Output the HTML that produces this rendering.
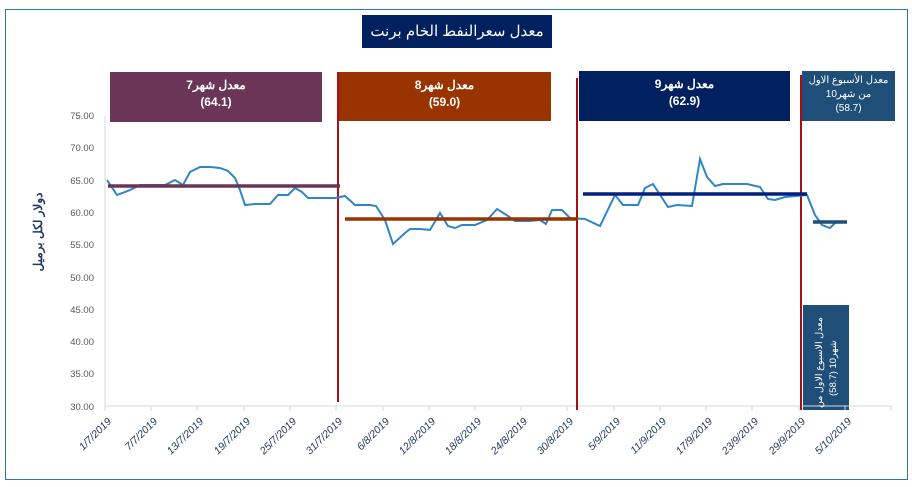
<!DOCTYPE html>
<html><head><meta charset="utf-8"><style>
body{margin:0;background:#fff;width:912px;height:487px;overflow:hidden;font-family:"Liberation Sans","Noto Sans CJK SC",sans-serif}
.b{position:absolute;color:#fff;text-align:center;font-weight:bold;font-size:12px;line-height:17px}
</style></head><body>
<div style="position:absolute;left:5px;top:9px;width:901px;height:469px;border:1.5px solid #2e75b6"></div>
<div class="b" style="left:362px;top:15px;width:190px;height:33px;background:#002060;font-size:15px;line-height:33px;font-weight:normal">معدل سعرالنفط الخام برنت</div>
<div class="b" style="left:110px;top:72px;width:212px;height:50px;background:#6b3557;padding-top:5px;box-sizing:border-box">معدل شهر7<br>(64.1)</div>
<div class="b" style="left:338px;top:72px;width:213px;height:49px;background:#993300;padding-top:5px;box-sizing:border-box">معدل شهر8<br>(59.0)</div>
<div class="b" style="left:579px;top:71px;width:211px;height:50px;background:#002060;padding-top:5px;box-sizing:border-box">معدل شهر9<br>(62.9)</div>
<div class="b" style="left:802px;top:71px;width:93px;height:50px;background:#1f4e79;font-weight:normal;font-size:10px;line-height:14px;padding-top:3px;box-sizing:border-box">معدل الأسبوع الاول<br>من شهر10<br>(58.7)</div>
<div style="position:absolute;left:803px;top:305px;width:46px;height:105px;background:#1f4e79"></div>
<svg width="912" height="487" style="position:absolute;left:0;top:0" font-family="Liberation Sans, Noto Sans CJK SC, sans-serif">
<g font-size="9.5" fill="#595959" text-anchor="end">
<text x="94" y="119">75.00</text><text x="94" y="151">70.00</text><text x="94" y="184">65.00</text><text x="94" y="216">60.00</text><text x="94" y="248">55.00</text><text x="94" y="281">50.00</text><text x="94" y="313">45.00</text><text x="94" y="345">40.00</text><text x="94" y="377">35.00</text><text x="94" y="410">30.00</text>
</g>
<line x1="105" y1="116" x2="105" y2="406" stroke="#d9d9d9"/>
<line x1="105" y1="406" x2="892" y2="406" stroke="#d9d9d9"/>
<g stroke="#d9d9d9">
<line x1="105" y1="406" x2="105" y2="411"/><line x1="151" y1="406" x2="151" y2="411"/><line x1="197" y1="406" x2="197" y2="411"/><line x1="244" y1="406" x2="244" y2="411"/><line x1="290" y1="406" x2="290" y2="411"/><line x1="336" y1="406" x2="336" y2="411"/><line x1="383" y1="406" x2="383" y2="411"/><line x1="429" y1="406" x2="429" y2="411"/><line x1="475" y1="406" x2="475" y2="411"/><line x1="521" y1="406" x2="521" y2="411"/><line x1="567" y1="406" x2="567" y2="411"/><line x1="614" y1="406" x2="614" y2="411"/><line x1="660" y1="406" x2="660" y2="411"/><line x1="706" y1="406" x2="706" y2="411"/><line x1="752" y1="406" x2="752" y2="411"/><line x1="799" y1="406" x2="799" y2="411"/><line x1="845" y1="406" x2="845" y2="411"/><line x1="891" y1="406" x2="891" y2="411"/>
</g>
<g font-size="10.5" fill="#1f3864" font-style="italic" text-anchor="end">
<text transform="translate(112,422) rotate(-45)">1/7/2019</text>
<text transform="translate(158,422) rotate(-45)">7/7/2019</text>
<text transform="translate(204,422) rotate(-45)">13/7/2019</text>
<text transform="translate(251,422) rotate(-45)">19/7/2019</text>
<text transform="translate(297,422) rotate(-45)">25/7/2019</text>
<text transform="translate(343,422) rotate(-45)">31/7/2019</text>
<text transform="translate(390,422) rotate(-45)">6/8/2019</text>
<text transform="translate(436,422) rotate(-45)">12/8/2019</text>
<text transform="translate(482,422) rotate(-45)">18/8/2019</text>
<text transform="translate(528,422) rotate(-45)">24/8/2019</text>
<text transform="translate(574,422) rotate(-45)">30/8/2019</text>
<text transform="translate(621,422) rotate(-45)">5/9/2019</text>
<text transform="translate(667,422) rotate(-45)">11/9/2019</text>
<text transform="translate(713,422) rotate(-45)">17/9/2019</text>
<text transform="translate(759,422) rotate(-45)">23/9/2019</text>
<text transform="translate(806,422) rotate(-45)">29/9/2019</text>
<text transform="translate(852,422) rotate(-45)">5/10/2019</text>
</g>
<text transform="translate(42,232) rotate(-90)" font-size="12" font-weight="bold" fill="#1f3864" text-anchor="middle">دولار لكل برميل</text>
<line x1="338" y1="72" x2="338" y2="402" stroke="#a50f15" stroke-width="2"/>
<line x1="577" y1="78" x2="577" y2="410" stroke="#a50f15" stroke-width="2"/>
<line x1="801" y1="75" x2="801" y2="410" stroke="#a50f15" stroke-width="2"/>
<polyline fill="none" stroke="#2e86c8" stroke-width="2" points="107,180 117,195 130,190 140,185 150,185 165,185 175,180 183,185 190,172 200,167 210,167 220,168 228,171 235,178 240,190 245,205 255,204 270,204 278,195 288,195 295,188 302,192 308,198 320,198 335,198 345,196 355,205 370,205 376,206 385,220 393,244 405,233 410,229 420,229 430,230 440,213 448,226 455,228 462,225 475,225 487,220 497,209 508,216 515,221 530,221 540,220 546,224 552,210 562,210 570,218 585,219 600,226 615,195 623,205 638,205 645,188 653,184 668,207 677,205 692,206 700,159 707,177 715,186 723,184 747,184 760,187 768,199 775,200 785,197 807,195 815,215 822,225 830,228 837,221"/>
<line x1="108" y1="186" x2="340" y2="186" stroke="#6b3557" stroke-width="3.5"/>
<line x1="345" y1="219" x2="578" y2="219" stroke="#993300" stroke-width="3.5"/>
<line x1="583" y1="194" x2="807" y2="194" stroke="#002080" stroke-width="3.5"/>
<line x1="813" y1="222" x2="847" y2="222" stroke="#1f4e79" stroke-width="3.5"/>
<text transform="translate(822,408) rotate(-90)" font-size="9.5" fill="#fff">معدل الاسبوع الاول من</text>
<text transform="translate(836,396) rotate(-90)" font-size="9.5" fill="#fff">شهر10 (58.7)</text>
</svg>
</body></html>
